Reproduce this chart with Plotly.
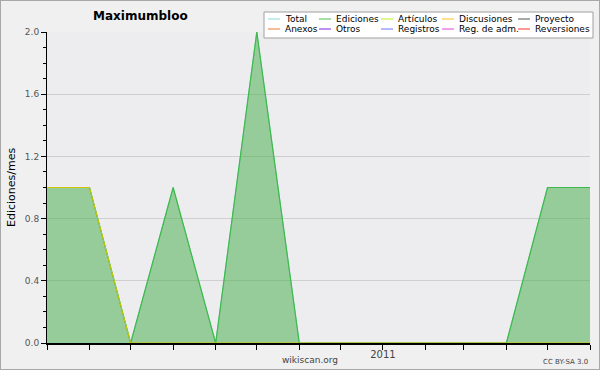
import plotly.graph_objects as go

months = ["2010-05-01", "2010-06-01", "2010-07-01", "2010-08-01", "2010-09-01", "2010-10-01",
          "2010-11-01", "2010-12-01", "2011-01-01", "2011-02-01", "2011-03-01", "2011-04-01",
          "2011-05-01", "2011-06-01"]
tick_labels = ["", "", "", "", "", "", "", "", "2011", "", "", "", "", ""]
total = [1, 1, 0, 1, 0, 2, 0, 0, 0, 0, 0, 0, 1, 1]
ediciones = [1, 1, 0, 1, 0, 2, 0, 0, 0, 0, 0, 0, 1, 1]
articulos = [1, 1, 0, 0, 0, 0, 0, 0, 0, 0, 0, 0, 0, 0]

legend_names = ["Total", "Anexos", "Ediciones", "Otros", "Artículos", "Registros",
                "Discusiones", "Reg. de adm.", "Proyecto", "Reversiones"]
legend_colors = ["#88dddd", "#f07838", "#50bb50", "#8020e0", "#c0ee20", "#7070ff",
                 "#ffc020", "#e040e0", "#555555", "#ff3030"]

FONT = "DejaVu Sans"
W, H = 600, 370
x0, x1 = 47, 590
y0, y1 = 32, 343

fig = go.Figure()
fig.add_trace(go.Scatter(x=months, y=total, mode="lines",
                         line=dict(color="#88dddd", width=1), showlegend=False))
fig.add_trace(go.Scatter(x=months, y=ediciones, mode="lines", fill="tozeroy",
                         fillcolor="rgba(70,175,75,0.52)",
                         line=dict(color="#3fb94a", width=1.2), showlegend=False))
fig.add_trace(go.Scatter(x=months, y=articulos, mode="lines",
                         line=dict(color="#d2c400", width=1), showlegend=False))

fig.update_layout(
    width=W, height=H,
    margin=dict(l=0, r=0, t=0, b=0, autoexpand=False),
    paper_bgcolor="#f0f0f0",
    plot_bgcolor="#ededef",
    font=dict(family=FONT, size=10, color="#333333"),
    showlegend=False,
    xaxis=dict(domain=[x0 / W, x1 / W], range=[months[0], months[-1]], automargin=False,
               tickmode="array", tickvals=months, ticktext=tick_labels,
               ticks="outside", ticklen=5, tickcolor="#000", tickwidth=1,
               ticklabelstandoff=-4,
               showline=True, linecolor="#000", linewidth=1.5, showgrid=False,
               zeroline=False, tickfont=dict(size=10, color="#444")),
    yaxis=dict(domain=[1 - y1 / H, 1 - y0 / H], range=[0, 2], automargin=False,
               tickvals=[0, 0.4, 0.8, 1.2, 1.6, 2.0], tickformat=".1f",
               ticks="outside", ticklen=5, tickcolor="#000",
               minor=dict(dtick=0.1, ticks="outside", ticklen=3, tickcolor="#000", showgrid=False),
               showline=True, linecolor="#000", linewidth=1,
               showgrid=True, gridcolor="#cfcfcf", gridwidth=1, zeroline=False,
               tickfont=dict(size=9, color="#555")),
)

shapes = [
    dict(type="rect", xref="paper", yref="paper", x0=0, x1=1, y0=0, y1=1,
         line=dict(color="#a8a8a8", width=2), fillcolor="rgba(0,0,0,0)", layer="above"),
    dict(type="rect", xref="paper", yref="paper", x0=264 / W, x1=593 / W,
         y0=1 - 38 / H, y1=1 - 12 / H, line=dict(color="#a0a0a0", width=1),
         fillcolor="#ffffff", layer="above"),
]
annotations = [
    dict(text="<b>Maximumbloo</b>", x=140 / W, y=1 - 16 / H, xref="paper", yref="paper",
         showarrow=False, font=dict(size=12, color="#000"), xanchor="center", yanchor="middle"),
    dict(text="Ediciones/mes", x=11 / W, y=1 - 188 / H, xref="paper", yref="paper",
         showarrow=False, textangle=-90, font=dict(size=11, color="#000"),
         xanchor="center", yanchor="middle"),
    dict(text="wikiscan.org", x=310 / W, y=1 - 360 / H, xref="paper", yref="paper",
         showarrow=False, font=dict(size=9, color="#444"), xanchor="center", yanchor="middle"),
    dict(text="CC BY-SA 3.0", x=590 / W, y=1 - 362 / H, xref="paper", yref="paper",
         showarrow=False, font=dict(size=7, color="#444"), xanchor="right", yanchor="middle"),
]
col_x = [268, 319, 381, 442, 518]
row_y = [19, 29]
for i, (name, color) in enumerate(zip(legend_names, legend_colors)):
    c, r = i // 2, i % 2
    lx = col_x[c]
    ly = row_y[r]
    shapes.append(dict(type="line", xref="paper", yref="paper", x0=lx / W, x1=(lx + 12) / W,
                       y0=1 - ly / H, y1=1 - ly / H, line=dict(color=color, width=1), layer="above"))
    annotations.append(dict(text=name, x=(lx + 15) / W, y=1 - ly / H, xref="paper", yref="paper",
                            showarrow=False, xanchor="left", yanchor="middle",
                            font=dict(size=9, color="#000")))
fig.update_layout(shapes=shapes, annotations=annotations)

fig.write_html("out.html", config={"displayModeBar": False},
               post_script="document.body.style.margin='0';document.body.style.overflow='hidden';")
